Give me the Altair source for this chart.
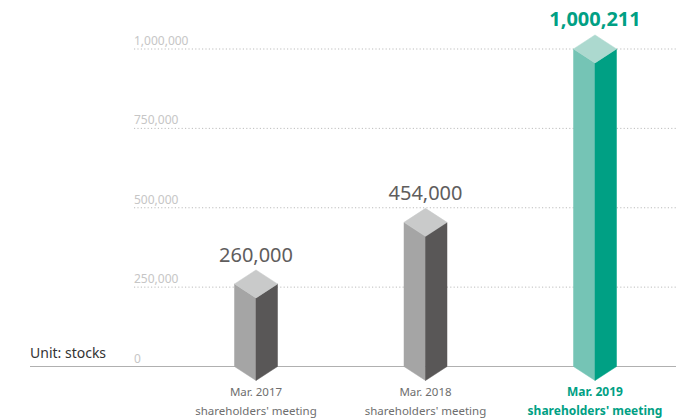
import altair as alt
import pandas as pd

# ---- data ----
periods = ["Mar. 2017", "Mar. 2018", "Mar. 2019"]
meeting = "shareholders' meeting"
values = [260000, 454000, 1000211]
highlight = [False, False, True]
tick_values = [0, 250000, 500000, 750000, 1000000]
unit_label = "Unit: stocks"

# ---- style / layout ----
W, H = 686, 418
PX0, PXSTEP = 256, 169.5          # pixel centre of first bar, spacing
Y0PX, Y1MPX = 366.5, 49           # pixel of 0 and 1,000,000
ppu = (Y0PX - Y1MPX) / 1e6
x_dom = [(0 - PX0) / PXSTEP, (W - PX0) / PXSTEP]
y_dom = [(Y0PX - H) / ppu, Y0PX / ppu]
hw = 21.5 / PXSTEP                # half width of bar (x units)
d = 14 / ppu                      # half height of top diamond (y units)

GRAY = ("#a5a5a5", "#595757", "#c9caca")
GREEN = ("#75c4b5", "#00a084", "#acd9cf")
FONT = "Noto Sans"

rows = []
for i, (v, hl) in enumerate(zip(values, highlight)):
    left, right, top = GREEN if hl else GRAY
    rows += [
        dict(face=f"{i}L", x=i - hw, y=v, y2=0, fill=left),
        dict(face=f"{i}L", x=i, y=v - d, y2=-d, fill=left),
        dict(face=f"{i}R", x=i, y=v - d, y2=-d, fill=right),
        dict(face=f"{i}R", x=i + hw, y=v, y2=0, fill=right),
        dict(face=f"{i}T", x=i - hw, y=v, y2=v, fill=top),
        dict(face=f"{i}T", x=i, y=v + d, y2=v - d, fill=top),
        dict(face=f"{i}T", x=i + hw, y=v, y2=v, fill=top),
    ]
faces_df = pd.DataFrame(rows)

labels_df = pd.DataFrame({
    "x": list(range(len(values))),
    "v": values,
    "ytop": [v + d for v in values],
    "zero": [0] * len(values),
    "cat": [p + "\n" + meeting for p in periods],
    "hl": [1 if h else 0 for h in highlight],
})
ticks_df = pd.DataFrame({"t": tick_values, "unit": [unit_label] * len(tick_values)})

xs = alt.Scale(domain=x_dom, nice=False, zero=False)
ys = alt.Scale(domain=y_dom, nice=False, zero=False)

Y_T = alt.Y("t:Q", scale=ys, axis=None)
X_I = alt.X("x:Q", scale=xs, axis=None)

grid = alt.Chart(ticks_df).transform_filter("datum.t > 0").mark_rule(
    color="#bdbdbd", strokeDash=[1.2, 2.2], strokeWidth=1
).encode(x=alt.value(134), x2=alt.value(678), y=Y_T)

tick_text = alt.Chart(ticks_df).mark_text(
    align="left", baseline="alphabetic", dy=-4, fontSize=12, font=FONT, color="#c6c6c6"
).encode(x=alt.value(134), y=Y_T, text=alt.Text("t:Q", format=","))

baseline = alt.Chart(ticks_df).transform_filter("datum.t == 0").mark_rule(
    color="#b0b0b0", strokeWidth=1
).encode(x=alt.value(30), x2=alt.value(676), y=Y_T)

unit = alt.Chart(ticks_df).transform_filter("datum.t == 0").mark_text(
    align="left", baseline="alphabetic", dy=-9, fontSize=14, font=FONT, color="#333333"
).encode(x=alt.value(30), y=Y_T, text="unit:N")

faces = alt.Chart(faces_df).mark_area(strokeWidth=0.5).encode(
    x=X_I,
    y=alt.Y("y:Q", scale=ys, axis=None, stack=None),
    y2="y2:Q",
    detail="face:N",
    color=alt.Color("fill:N", scale=None),
    stroke=alt.Stroke("fill:N", scale=None),
)

val_gray = alt.Chart(labels_df).transform_filter("datum.hl == 0").mark_text(
    baseline="alphabetic", dy=-8, fontSize=20, font=FONT, color="#5f5d5d"
).encode(x=X_I, y=alt.Y("ytop:Q", scale=ys, axis=None), text=alt.Text("v:Q", format=","))

val_hl = alt.Chart(labels_df).transform_filter("datum.hl == 1").mark_text(
    baseline="alphabetic", dy=-9, fontSize=20, font=FONT, fontWeight="bold", color="#00a084"
).encode(x=X_I, y=alt.Y("ytop:Q", scale=ys, axis=None), text=alt.Text("v:Q", format=","))

cat_gray = alt.Chart(labels_df).transform_filter("datum.hl == 0").mark_text(
    baseline="alphabetic", dy=29.5, fontSize=11.5, font=FONT, color="#6e6e6e",
    lineBreak="\n", lineHeight=18.5,
).encode(x=X_I, y=alt.Y("zero:Q", scale=ys, axis=None), text="cat:N")

cat_hl = alt.Chart(labels_df).transform_filter("datum.hl == 1").mark_text(
    baseline="alphabetic", dy=29.5, fontSize=12, font=FONT, fontWeight="bold", color="#00a084",
    lineBreak="\n", lineHeight=18.5,
).encode(x=X_I, y=alt.Y("zero:Q", scale=ys, axis=None), text="cat:N")

chart = alt.layer(
    grid, tick_text, baseline, unit, faces, val_gray, val_hl, cat_gray, cat_hl
).properties(
    width=W, height=H, padding=0,
    autosize=alt.AutoSizeParams(type="none"),
).configure_view(stroke=None)

chart.save("out.html", embed_options={"renderer": "svg", "actions": False})
